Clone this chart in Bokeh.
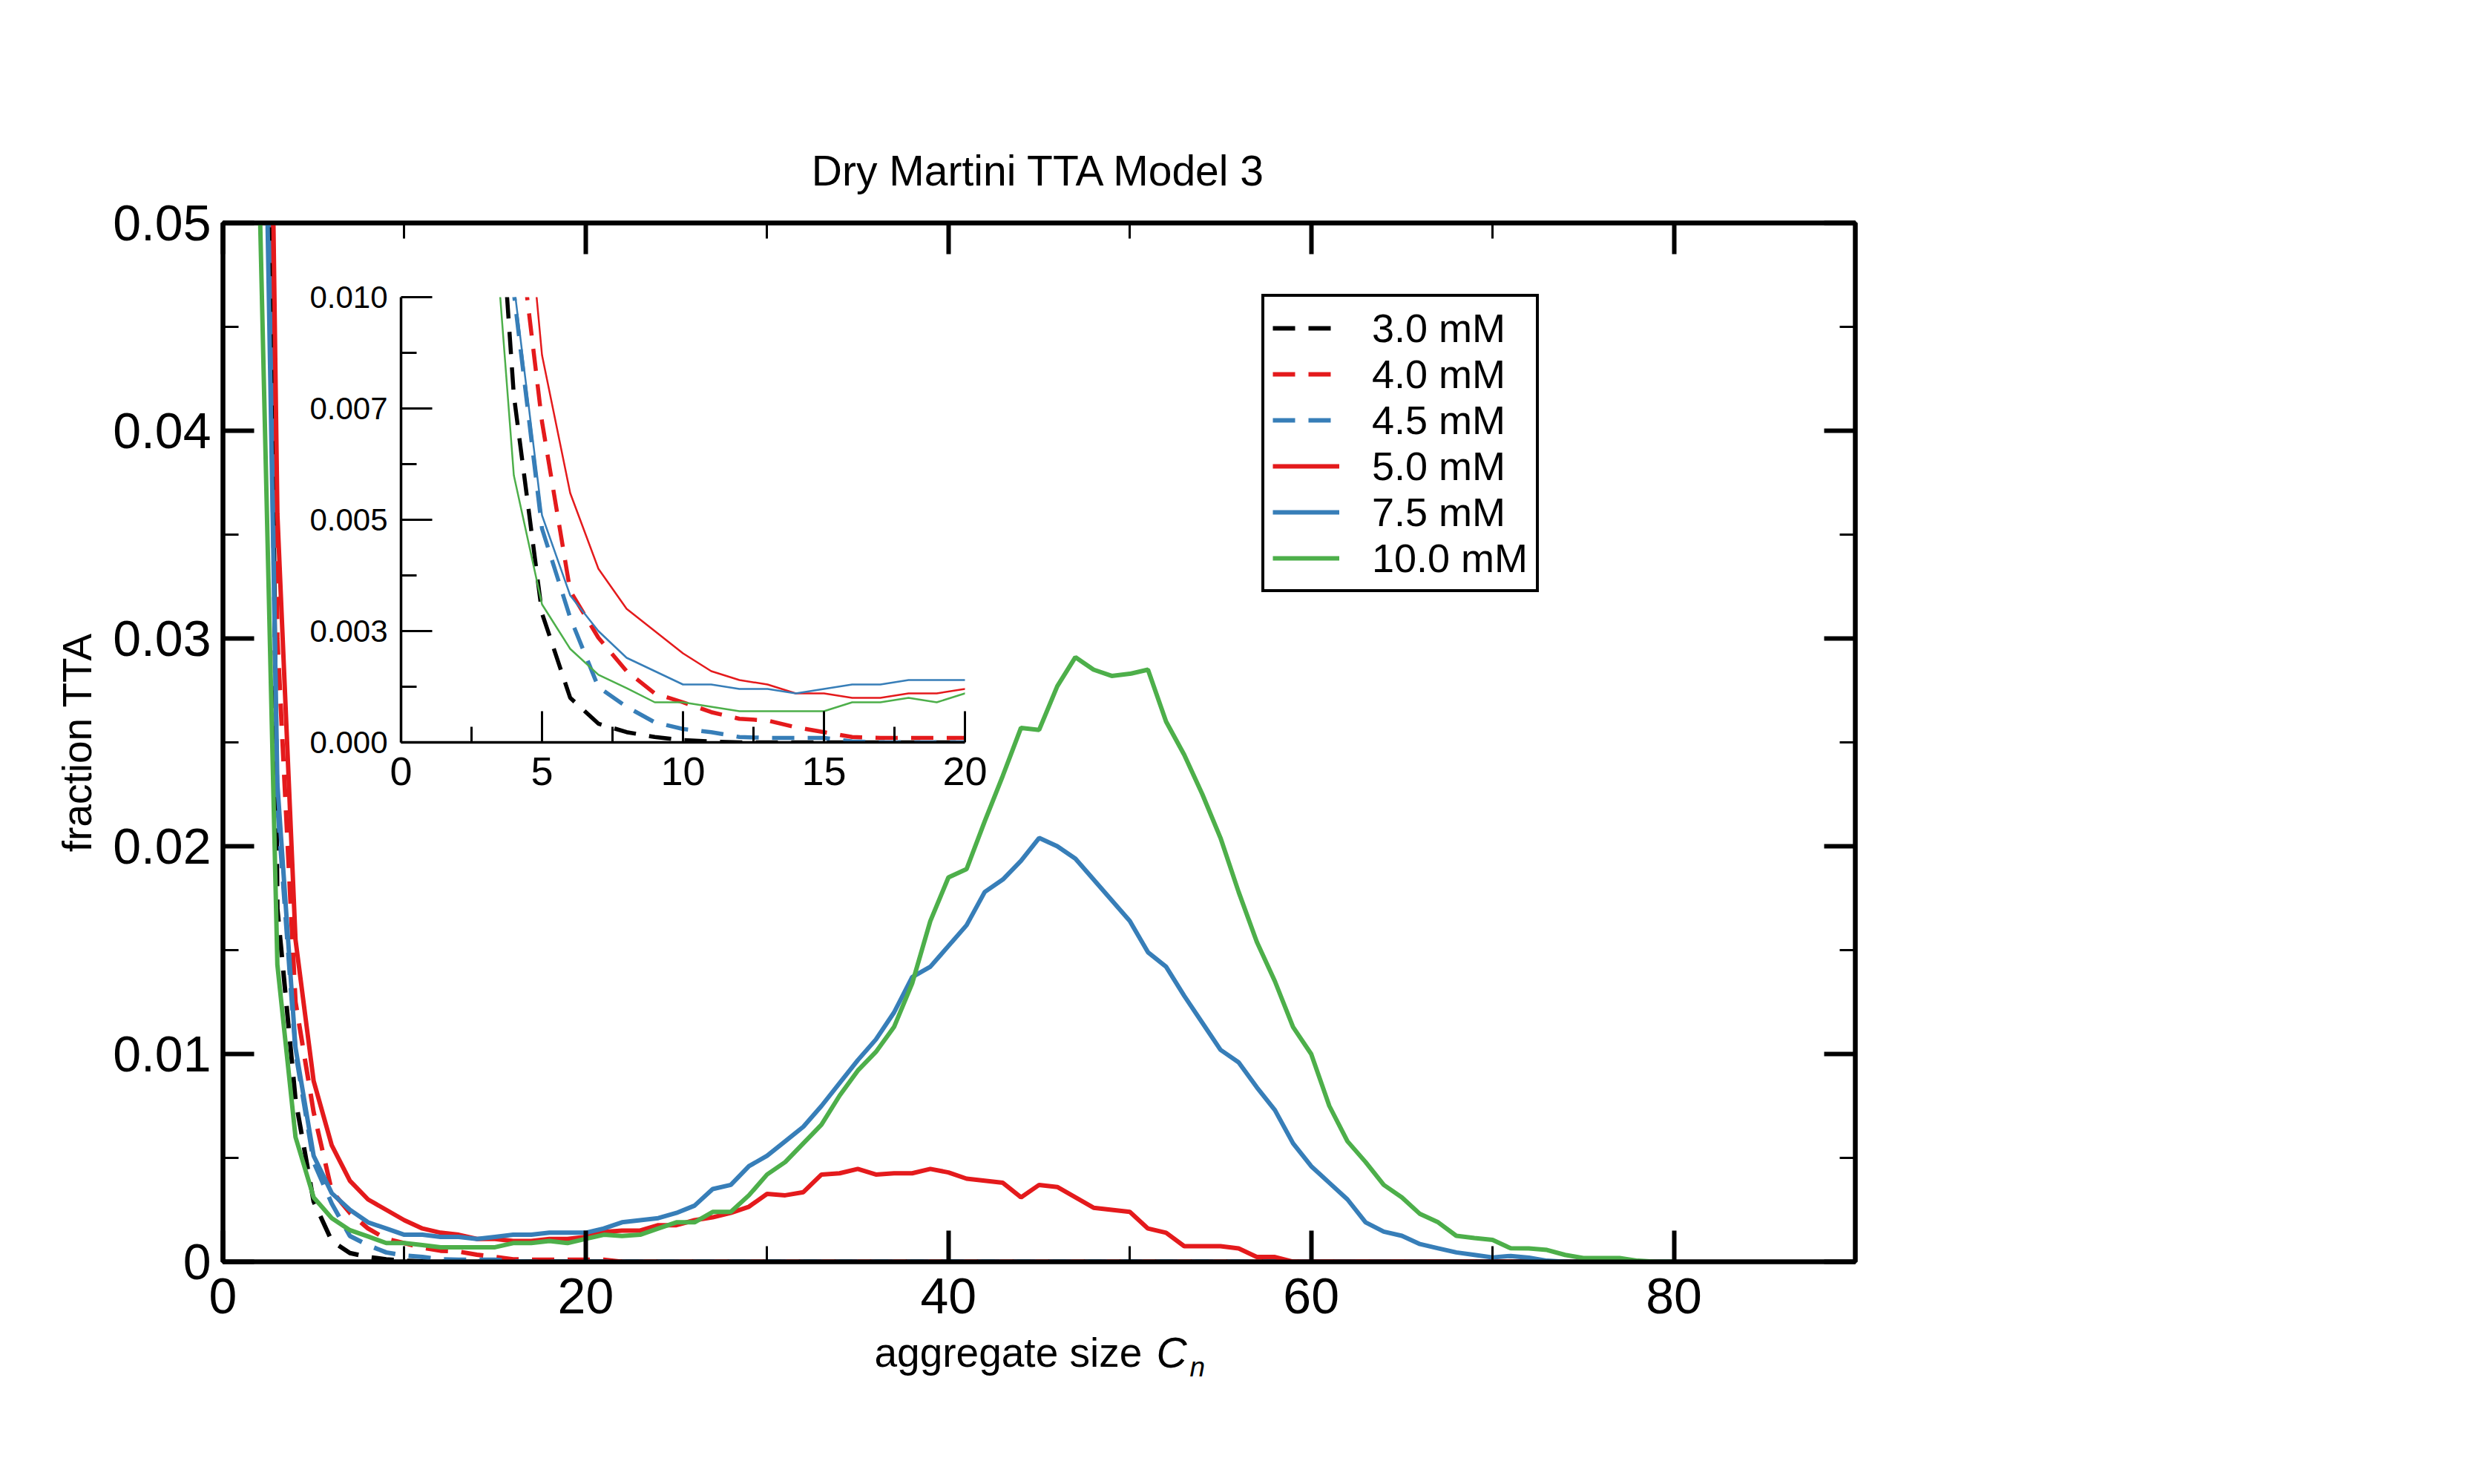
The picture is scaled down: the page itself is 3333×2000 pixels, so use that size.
import math
from bokeh.plotting import figure
from bokeh.models import (FixedTicker, LinearAxis, Legend, LegendItem, Range1d,
                          CustomJSTickFormatter)
from bokeh.core.properties import value
from bokeh.embed import file_html
from bokeh.resources import INLINE

FONT = "Liberation Sans"

# ---------------- data ----------------
sizes = list(range(2, 81))

frac_3_0 = [0.110, 0.0170, 0.0078, 0.0029, 0.0010, 0.00042, 0.00023, 0.00012, 0.00005, 0.00002,
            0, 0, 0, 0, 0, 0, 0, 0, 0, 0,
            0, 0, 0, 0, 0, 0, 0, 0, 0, 0,
            0, 0, 0, 0, 0, 0, 0, 0, 0, 0,
            0, 0, 0, 0, 0, 0, 0, 0, 0, 0,
            0, 0, 0, 0, 0, 0, 0, 0, 0, 0,
            0, 0, 0, 0, 0, 0, 0, 0, 0, 0,
            0, 0, 0, 0, 0, 0, 0, 0, 0]

frac_4_0 = [0.104, 0.0300, 0.0125, 0.0072, 0.0034, 0.00235, 0.0016, 0.0011, 0.0009, 0.00068,
            0.00053, 0.00049, 0.00034, 0.00023, 0.00012, 0.0001, 0.0001, 0.0001, 0.0001, 0.0001,
            0, 0, 0, 0, 0, 0, 0, 0, 0, 0,
            0, 0, 0, 0, 0, 0, 0, 0, 0, 0,
            0, 0, 0, 0, 0, 0, 0, 0, 0, 0,
            0, 0, 0, 0, 0, 0, 0, 0, 0, 0,
            0, 0, 0, 0, 0, 0, 0, 0, 0, 0,
            0, 0, 0, 0, 0, 0, 0, 0, 0]

frac_4_5 = [0.080, 0.0220, 0.0101, 0.0048, 0.0028, 0.00124, 0.0008, 0.00045, 0.0003, 0.00023,
            0.00012, 0.0001, 0.0001, 0.0001, 0.00002, 0, 0, 0, 0, 0,
            0, 0, 0, 0, 0, 0, 0, 0, 0, 0,
            0, 0, 0, 0, 0, 0, 0, 0, 0, 0,
            0, 0, 0, 0, 0, 0, 0, 0, 0, 0,
            0, 0, 0, 0, 0, 0, 0, 0, 0, 0,
            0, 0, 0, 0, 0, 0, 0, 0, 0, 0,
            0, 0, 0, 0, 0, 0, 0, 0, 0]

frac_5_0 = [0.100, 0.0360, 0.0155, 0.0087, 0.0056, 0.0039, 0.0030, 0.0025, 0.0020, 0.0016,
            0.0014, 0.0013, 0.0011, 0.0011, 0.0010, 0.0010, 0.0011, 0.0011, 0.0012, 0.00144,
            0.0015, 0.0015, 0.00176, 0.00176, 0.0020, 0.00214, 0.00235, 0.00265, 0.00327, 0.0032,
            0.00335, 0.0042, 0.00426, 0.00447, 0.0042, 0.00426, 0.00426, 0.00447, 0.0043, 0.0040,
            0.0039, 0.0038, 0.0031, 0.0037, 0.0036, 0.0031, 0.0026, 0.0025, 0.0024, 0.0016,
            0.0014, 0.00075, 0.00075, 0.00075, 0.00064, 0.00023, 0.00023, 0, 0, 0,
            0, 0, 0, 0, 0, 0, 0, 0, 0, 0,
            0, 0, 0, 0, 0, 0, 0, 0, 0]

frac_7_5 = [0.073, 0.0230, 0.0103, 0.0051, 0.0033, 0.0025, 0.0019, 0.0016, 0.0013, 0.0013,
            0.0012, 0.0012, 0.0011, 0.0012, 0.0013, 0.0013, 0.0014, 0.0014, 0.0014, 0.0016,
            0.0019, 0.0020, 0.0021, 0.00235, 0.0027, 0.0035, 0.0037, 0.0046, 0.0051, 0.0058,
            0.0065, 0.0075, 0.0086, 0.0097, 0.0107, 0.0120, 0.0137, 0.0142, 0.0152, 0.0162,
            0.0178, 0.0184, 0.0193, 0.0204, 0.0200, 0.0194, 0.0184, 0.0174, 0.0164, 0.0149,
            0.0142, 0.0128, 0.0115, 0.0102, 0.0096, 0.0084, 0.0073, 0.0057, 0.0046, 0.0038,
            0.0030, 0.0019, 0.00145, 0.00125, 0.00085, 0.00065, 0.00045, 0.00033, 0.00021, 0.00028,
            0.0002, 0.00005, 0, 0, 0, 0, 0, 0, 0]

frac_10_0 = [0.052, 0.0143, 0.0060, 0.0031, 0.0021, 0.00152, 0.00122, 0.0009, 0.0009, 0.0008,
             0.0007, 0.0007, 0.0007, 0.0007, 0.0009, 0.0009, 0.0010, 0.0009, 0.0011, 0.0013,
             0.00124, 0.0013, 0.0016, 0.0019, 0.0019, 0.0024, 0.0024, 0.0032, 0.0042, 0.0048,
             0.0057, 0.0066, 0.0080, 0.0092, 0.0101, 0.0113, 0.0134, 0.0164, 0.0185, 0.0189,
             0.0212, 0.0234, 0.0257, 0.0256, 0.0277, 0.0291, 0.0285, 0.0282, 0.0283, 0.0285,
             0.0260, 0.0244, 0.0225, 0.0204, 0.0178, 0.0154, 0.0135, 0.0113, 0.0100, 0.0075,
             0.0058, 0.0048, 0.0037, 0.0031, 0.0023, 0.0019, 0.00125, 0.00114, 0.00105, 0.00065,
             0.00064, 0.00057, 0.00033, 0.00018, 0.00018, 0.00018, 0.00005, 0, 0]

series_labels = ["3.0 mM", "4.0 mM", "4.5 mM", "5.0 mM", "7.5 mM", "10.0 mM"]
series_values = [frac_3_0, frac_4_0, frac_4_5, frac_5_0, frac_7_5, frac_10_0]
series_colors = ["#000000", "#e41a1c", "#377eb8", "#e41a1c", "#377eb8", "#4daf4a"]
series_dashed = [True, True, True, False, False, False]

x_major_ticks = [0, 20, 40, 60, 80]
x_minor_ticks = [10, 30, 50, 70, 90]
y_major_ticks = [0, 0.01, 0.02, 0.03, 0.04, 0.05]
y_tick_labels = ["0", "0.01", "0.02", "0.03", "0.04", "0.05"]
y_minor_ticks = [0.005, 0.015, 0.025, 0.035, 0.045]

inset_x_major = [0, 5, 10, 15, 20]
inset_x_minor = [2.5, 7.5, 12.5, 17.5]
inset_y_major = [0, 0.0025, 0.005, 0.0075, 0.01]
inset_y_labels = ["0.000", "0.003", "0.005", "0.007", "0.010"]
inset_y_minor = [0.00125, 0.00375, 0.00625, 0.00875]

title_text = "Dry Martini TTA Model 3"
xlabel_text = "aggregate size"
xlabel_symbol = "C"
xlabel_subscript = "n"
ylabel_text = "fraction TTA"

# ---------------- main figure ----------------
W, H = 2900, 1950
FL, FT, FW, FH = 300, 300, 2200, 1400   # frame placement on the canvas
p = figure(width=W, height=H, x_range=Range1d(0, 90), y_range=Range1d(0, 0.05),
           output_backend="svg", toolbar_location=None, title=None,
           x_axis_location=None, y_axis_location=None,
           min_border_left=FL, min_border_right=W - FL - FW,
           min_border_top=FT, min_border_bottom=H - FT - FH)
p.xgrid.visible = False
p.ygrid.visible = False
p.outline_line_color = "black"
p.outline_line_width = 6
p.background_fill_color = "white"
p.border_fill_color = "white"
p.styles = {"position": "absolute", "left": "0px", "top": "0px", "z-index": "1"}


def label_formatter(tick_values, tick_labels):
    return CustomJSTickFormatter(args=dict(tvals=tick_values, tlabs=tick_labels), code="""
        for (let i = 0; i < tvals.length; i++) {
            if (Math.abs(tvals[i] - tick) < 1e-9) { return tlabs[i]; }
        }
        return '';
    """)


def style(ax, show_labels, size, standoff, lw_axis, lw_major, lw_minor):
    ax.axis_line_width = lw_axis
    ax.axis_line_color = "black"
    ax.major_tick_line_width = lw_major
    ax.minor_tick_line_width = lw_minor
    ax.major_tick_in = 42
    ax.major_tick_out = 0
    ax.minor_tick_in = 21
    ax.minor_tick_out = 0
    ax.major_label_text_font = FONT
    ax.major_label_text_font_size = size
    ax.major_label_standoff = standoff
    ax.major_label_text_color = "black" if show_labels else None


for loc in ["below", "above"]:
    ax = LinearAxis(ticker=FixedTicker(ticks=x_major_ticks, minor_ticks=x_minor_ticks))
    style(ax, loc == "below", "68px", 22, 6, 6, 3)
    p.add_layout(ax, loc)
for loc in ["left", "right"]:
    ax = LinearAxis(ticker=FixedTicker(ticks=y_major_ticks, minor_ticks=y_minor_ticks),
                    formatter=label_formatter(y_major_ticks, y_tick_labels))
    style(ax, loc == "left", "68px", 16, 6, 6, 3)
    p.add_layout(ax, loc)

items = []
for lab, vals, col, dashed in zip(series_labels, series_values, series_colors, series_dashed):
    r = p.line(sizes, vals, line_color=col, line_width=6,
               line_dash="30 18" if dashed else "solid")
    items.append(LegendItem(label=lab, renderers=[r]))

legend = Legend(items=items, location=(1400, 902),
                label_text_font=FONT, label_text_font_size="54px", label_text_color="black",
                glyph_width=90, glyph_height=60, label_height=60, label_standoff=44,
                padding=11, spacing=0, margin=0,
                border_line_color="black", border_line_width=4, border_line_alpha=1.0,
                background_fill_color="white", background_fill_alpha=1.0)
p.add_layout(legend)

# ---------------- inset figure ----------------
IL, IT, IR, IB = 150, 40, 30, 90
IW, IH = IL + 760 + IR, IT + 600 + IB
q = figure(width=IW, height=IH, x_range=Range1d(0, 20), y_range=Range1d(0, 0.01),
           output_backend="svg", toolbar_location=None, title=None,
           x_axis_location=None, y_axis_location=None,
           min_border_left=IL, min_border_right=IR, min_border_top=IT, min_border_bottom=IB,
           background_fill_color=None, border_fill_color=None, outline_line_color=None)
q.xgrid.visible = False
q.ygrid.visible = False

axb = LinearAxis(ticker=FixedTicker(ticks=inset_x_major, minor_ticks=inset_x_minor))
style(axb, True, "54px", 20, 3.5, 3, 3)
q.add_layout(axb, "below")
axl = LinearAxis(ticker=FixedTicker(ticks=inset_y_major, minor_ticks=inset_y_minor),
                 formatter=label_formatter(inset_y_major, inset_y_labels))
style(axl, True, "42px", 18, 3.5, 3, 3)
q.add_layout(axl, "left")

for vals, col, dashed in zip(series_values, series_colors, series_dashed):
    q.line(sizes, vals, line_color=col, line_width=5.5 if dashed else 2.5,
           line_dash="30 18" if dashed else "solid")

q.styles = {"position": "absolute", "left": f"{540 - IL}px", "top": f"{400 - IT}px",
            "z-index": "2"}

# ---------------- text overlay (canvas pixel coordinates) ----------------
t = figure(width=W, height=H, x_range=Range1d(0, W), y_range=Range1d(0, H),
           output_backend="svg", toolbar_location=None, title=None,
           x_axis_location=None, y_axis_location=None,
           min_border_left=0, min_border_right=0, min_border_top=0, min_border_bottom=0,
           background_fill_color=None, border_fill_color=None, outline_line_color=None)
t.xgrid.visible = False
t.ygrid.visible = False


def put(x, y_top, txt, size, align="left", angle=0.0, style_="normal"):
    t.text(x=[x], y=[H - y_top], text=[txt], text_font=value(FONT),
           text_font_size=value(size), text_align=align, text_baseline="alphabetic",
           text_font_style=style_, angle=angle, text_color="black")


put(1400, 229, title_text, "57px", align="center")
put(103, 1000, ylabel_text, "55px", align="center", angle=math.pi / 2)
put(1178, 1822, xlabel_text, "55px")
put(1558, 1822, xlabel_symbol, "57px", style_="italic")
put(1603, 1842, xlabel_subscript, "37px", style_="italic")

t.styles = {"position": "absolute", "left": "0px", "top": "0px", "z-index": "3"}

with open("out.html", "w") as f:
    f.write(file_html([p, q, t], INLINE))
